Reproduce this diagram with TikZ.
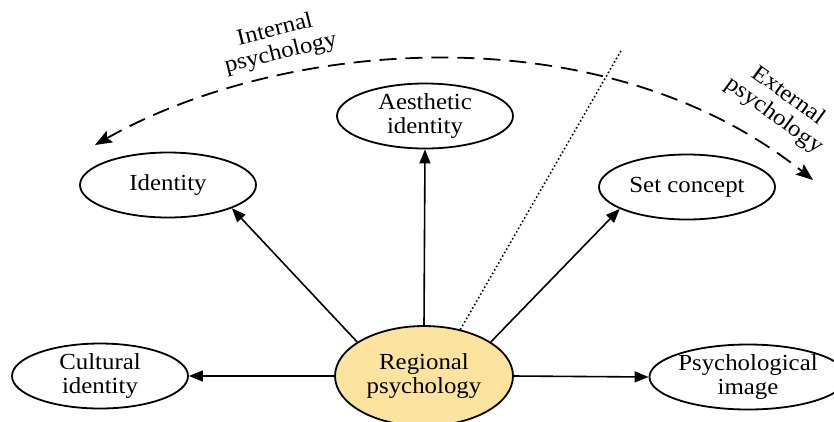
\documentclass[tikz,border=0pt]{standalone}
\usepackage{fontspec}
\setmainfont{Liberation Serif}[FakeStretch=1.08]
\usetikzlibrary{arrows.meta,shapes.geometric}
\definecolor{regfill}{RGB}{252,227,160}
\begin{document}
\begin{tikzpicture}[x=1pt,y=-1pt,
  oval/.style={draw, ellipse, line width=1.8pt, inner sep=0pt, minimum width=176pt, minimum height=65pt, align=center, font=\fontsize{23}{24}\selectfont},
  arr/.style={line width=1.6pt, -{Triangle[length=14pt,width=11pt]}},
  dasharc/.style={line width=1.8pt, dash pattern=on 17pt off 9pt, {Stealth[length=17pt,width=13pt,inset=3pt]}-{Stealth[length=17pt,width=13pt,inset=3pt]}},
  lbl/.style={align=center, inner sep=0pt, font=\fontsize{23}{24}\selectfont}]
\useasboundingbox (0,0) rectangle (834,421);
\node[oval, fill=regfill, minimum width=178pt, minimum height=100pt] (reg) at (424,376) {Regional\\psychology};
\node[oval] (cult) at (100,376) {Cultural\\identity};
\node[oval, minimum width=166pt] (psych) at (748,377) {Psychological\\image};
\node[oval] (ident) at (168,185) {Identity};
\node[oval] (aest) at (425,116) {Aesthetic\\identity};
\node[oval] (setc) at (687,187) {Set concept};
\draw[arr] (reg.west) -- (cult.east);
\draw[arr] (reg.east) -- (psych.west);
\draw[arr] (reg.north) -- (aest.south);
\draw[arr] (reg.153) -- (ident.-20);
\draw[arr] (reg.27) -- (setc.198);
\coordinate (dtop) at (622,49);
\draw[line width=1.6pt, dash pattern=on 1.5pt off 2.5pt] (reg.52) -- (dtop);
\coordinate (al) at (95,145);
\coordinate (ar) at (813,180);
\draw[dasharc] (al) .. controls (280,40) and (600,10) .. (ar);
\node[lbl, rotate=14] (intl) at (278,42) {Internal\\psychology};
\node[lbl, rotate=-36] (extl) at (781,106) {External\\psychology};
\end{tikzpicture}
\end{document}
